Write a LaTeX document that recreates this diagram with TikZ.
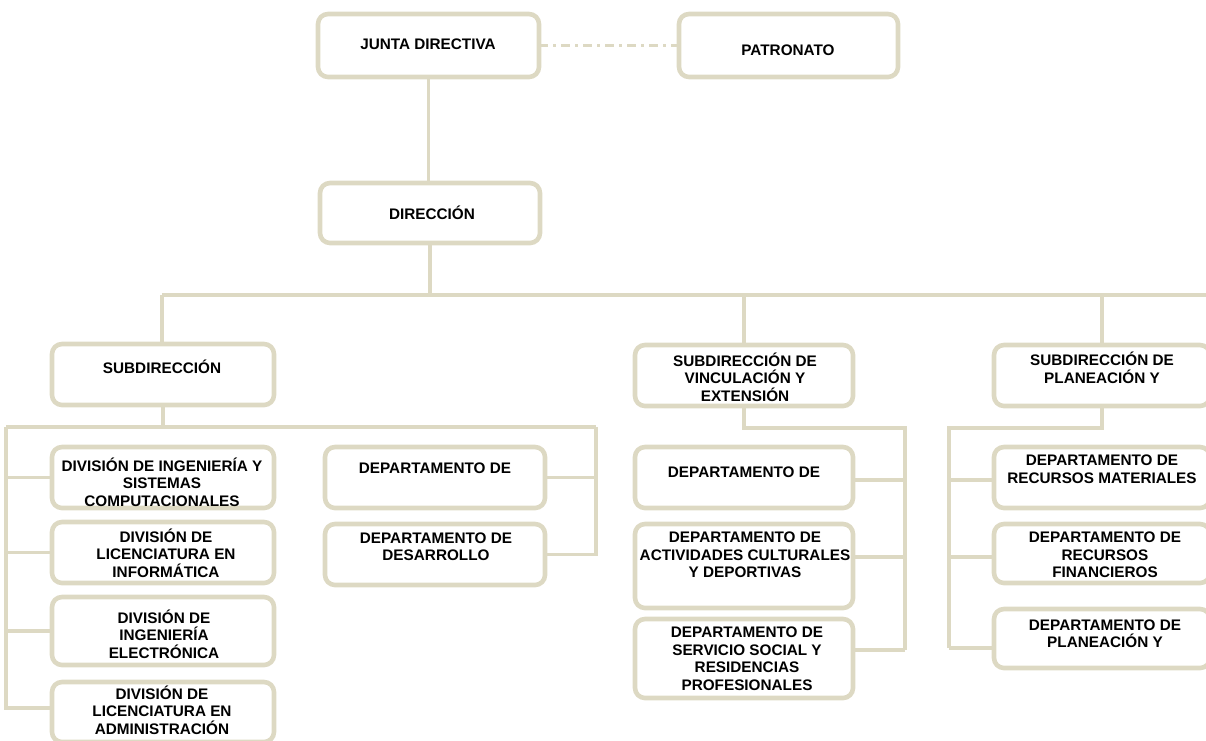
\documentclass[tikz,border=0pt]{standalone}
\usepackage{fontspec}
\setmainfont{Liberation Sans}
\usepackage{tikz}
\usetikzlibrary{positioning}
\usepackage{xcolor}
\definecolor{borde}{RGB}{221,217,195}

\begin{document}
\begin{tikzpicture}[x=0.5pt, y=-0.5pt,
  caja/.style={draw=borde, line width=2.3pt, rounded corners=5pt, inner sep=0pt, outer sep=0pt,
    minimum width=111pt, minimum height=30.5pt},
  texto/.style={align=center, inner sep=0pt, font=\fontsize{7.65}{8.75}\selectfont\bfseries},
  linea/.style={draw=borde, line width=1.8pt},
  punteada/.style={draw=borde, line width=1.9pt, dash pattern=on 4.5pt off 2.5pt on 1.5pt off 2.5pt}]

\useasboundingbox (0,0) rectangle (1206,740);

% top
\node[caja, minimum width=110.5pt, minimum height=31.5pt] (jd) at (428.5,45.5) {};
\node[texto] (jd-t) at (428,44) {JUNTA DIRECTIVA};
\node[caja, minimum width=109.5pt, minimum height=31.5pt] (pat) at (788.5,45.5) {};
\node[texto] (pat-t) at (788,50) {PATRONATO};
\node[caja, minimum width=110pt, minimum height=30pt] (dir) at (430,213) {};
\node[texto] (dir-t) at (432,213) {DIRECCIÓN};

% subdirecciones
\node[caja] (sub) at (163,374.5) {};
\node[texto] (sub-t) at (162,367) {SUBDIRECCIÓN};
\node[caja, minimum width=109pt] (vin) at (744,375.5) {};
\node[texto] (vin-t) at (745,377) {SUBDIRECCIÓN DE\\VINCULACIÓN Y\\EXTENSIÓN};
\node[caja, minimum width=108pt] (pla) at (1102,375.5) {};
\node[texto] (pla-t) at (1102,368) {SUBDIRECCIÓN DE\\PLANEACIÓN Y};

% divisiones
\node[caja] (d1) at (163,477.5) {};
\node[texto] (d1-t) at (162,482) {DIVISIÓN DE INGENIERÍA Y\\SISTEMAS\\COMPUTACIONALES};
\node[caja] (d2) at (163,552.5) {};
\node[texto] (d2-t) at (166,553) {DIVISIÓN DE\\LICENCIATURA EN\\INFORMÁTICA};
\node[caja, minimum height=34pt] (d3) at (163,631) {};
\node[texto] (d3-t) at (164,634) {DIVISIÓN DE\\INGENIERÍA\\ELECTRÓNICA};
\node[caja, minimum height=30pt] (d4) at (163,712) {};
\node[texto] (d4-t) at (162,710) {DIVISIÓN DE\\LICENCIATURA EN\\ADMINISTRACIÓN};

\node[caja, minimum width=110pt] (m1) at (435,477.5) {};
\node[texto] (m1-t) at (435,468) {DEPARTAMENTO DE};
\node[caja, minimum width=110pt] (m2) at (435,554.5) {};
\node[texto] (m2-t) at (436,546.5) {DEPARTAMENTO DE\\DESARROLLO};

% departamentos vinculacion
\node[caja, minimum width=109pt] (v1) at (744,477.5) {};
\node[texto] (v1-t) at (744,472) {DEPARTAMENTO DE};
\node[caja, minimum width=109pt, minimum height=42pt] (v2) at (744,566) {};
\node[texto] (v2-t) at (745,555) {DEPARTAMENTO DE\\ACTIVIDADES CULTURALES\\Y DEPORTIVAS};
\node[caja, minimum width=109pt, minimum height=39.5pt] (v3) at (744,658.5) {};
\node[texto] (v3-t) at (747,658.5) {DEPARTAMENTO DE\\SERVICIO SOCIAL Y\\RESIDENCIAS\\PROFESIONALES};

% departamentos planeacion
\node[caja, minimum width=108pt] (r1) at (1102,477.5) {};
\node[texto] (r1-t) at (1102,469) {DEPARTAMENTO DE\\RECURSOS MATERIALES};
\node[caja, minimum width=108pt, minimum height=29.5pt] (r2) at (1102,553.5) {};
\node[texto] (r2-t) at (1105,555) {DEPARTAMENTO DE\\RECURSOS\\FINANCIEROS};
\node[caja, minimum width=108pt, minimum height=29.5pt] (r3) at (1102,638.5) {};
\node[texto] (r3-t) at (1105,633.5) {DEPARTAMENTO DE\\PLANEACIÓN Y};


% lines
\draw[punteada] (jd.east) -- (pat.west);
\draw[linea] (jd.south) -- (jd.south |- dir.north);

\coordinate (busL) at (162,295);
\coordinate (busR) at (1206,295);
\draw[linea] (dir.south) -- (dir.south |- busL);
\draw[linea] (busL) -- (busR);
\draw[linea] (busL) -- (busL |- sub.north);
\draw[linea] (vin.north |- busL) -- (vin.north);
\draw[linea] (pla.north |- busL) -- (pla.north);

% subdireccion
\coordinate (s-l) at (6,427);
\coordinate (s-r) at (596,427);
\coordinate (s-b) at (6,708);
\draw[linea] (sub.south) -- (sub.south |- s-l);
\draw[linea] (s-l) -- (s-r);
\draw[linea] (s-l) -- (s-b) -- (d4.west |- s-b);
\draw[linea] (s-l |- d1.west) -- (d1.west);
\draw[linea] (s-l |- d2.west) -- (d2.west);
\draw[linea] (s-l |- d3.west) -- (d3.west);
\draw[linea] (s-r) |- (m2.east);
\draw[linea] (m1.east) -- (m1.east -| s-r);

% vinculacion
\coordinate (v-a) at (905,428);
\coordinate (v-b) at (905,480);
\coordinate (v-c) at (905,557);
\coordinate (v-d) at (905,650);
\draw[linea] (vin.south) |- (v-a) -- (v-d);
\draw[linea] (v1.east |- v-b) -- (v-b);
\draw[linea] (v2.east |- v-c) -- (v-c);
\draw[linea] (v3.east |- v-d) -- (v-d);

% planeacion
\coordinate (p-a) at (949,428);
\coordinate (p-b) at (949,480);
\coordinate (p-c) at (949,557);
\coordinate (p-d) at (949,648);
\draw[linea] (pla.south) |- (p-a) -- (p-d);
\draw[linea] (p-b) -- (r1.west |- p-b);
\draw[linea] (p-c) -- (r2.west |- p-c);
\draw[linea] (p-d) -- (r3.west |- p-d);

\end{tikzpicture}
\end{document}
